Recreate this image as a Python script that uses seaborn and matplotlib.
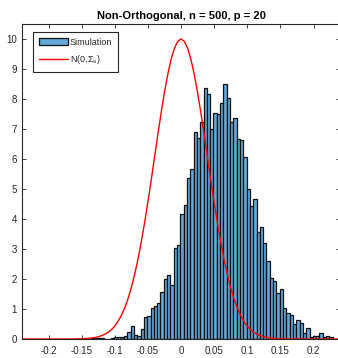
import numpy as np
import pandas as pd
import matplotlib
matplotlib.use("Agg")
import matplotlib.pyplot as plt
from matplotlib.patches import Patch
from matplotlib.lines import Line2D
import seaborn as sns

# ---------------- data ----------------
bin_start = -0.136          # left edge of first bin
bin_width = 0.005
sim_density = [0.03, 0.05, 0.04, 0.04, 0.00, 0.00, 0.03, 0.06, 0.06, 0.08,
               0.10, 0.24, 0.45, 0.14, 0.10, 0.33, 0.72, 0.78, 1.03, 1.11,
               1.21, 1.58, 2.01, 2.13, 1.79, 3.04, 3.13, 4.16, 4.48, 5.38,
               5.66, 6.91, 6.71, 7.22, 8.37, 8.17, 7.01, 7.52, 7.49, 7.88,
               8.49, 8.04, 7.22, 7.38, 6.67, 6.62, 6.08, 4.99, 4.44, 4.66,
               3.56, 3.72, 3.21, 2.60, 2.02, 1.94, 1.52, 1.67, 1.02, 0.87,
               0.81, 0.50, 0.63, 0.53, 0.19, 0.37, 0.06, 0.11, 0.11, 0.19,
               0.07, 0.11, 0.06]

curve_x = [-0.24, -0.20, -0.18, -0.16, -0.15, -0.14, -0.13, -0.125, -0.12, -0.115,
           -0.11, -0.105, -0.10, -0.095, -0.09, -0.085, -0.08, -0.075, -0.07, -0.065,
           -0.06, -0.055, -0.05, -0.045, -0.04, -0.035, -0.03, -0.025, -0.02, -0.015,
           -0.01, -0.005, 0.0, 0.005, 0.01, 0.015, 0.02, 0.025, 0.03, 0.035,
           0.04, 0.045, 0.05, 0.055, 0.06, 0.065, 0.07, 0.075, 0.08, 0.085,
           0.09, 0.095, 0.10, 0.105, 0.11, 0.115, 0.12, 0.125, 0.13, 0.14,
           0.15, 0.16, 0.18, 0.20, 0.24]
curve_y = [0.0, 0.0, 0.0005, 0.003, 0.0085, 0.021, 0.049, 0.074, 0.11, 0.16,
           0.22, 0.31, 0.43, 0.59, 0.79, 1.03, 1.34, 1.71, 2.15, 2.65,
           3.23, 3.87, 4.56, 5.29, 6.05, 6.81, 7.54, 8.22, 8.82, 9.32,
           9.69, 9.92, 10.0, 9.92, 9.69, 9.32, 8.82, 8.22, 7.54, 6.81,
           6.05, 5.29, 4.56, 3.87, 3.23, 2.65, 2.15, 1.71, 1.34, 1.03,
           0.79, 0.59, 0.43, 0.31, 0.22, 0.16, 0.11, 0.074, 0.049, 0.021,
           0.0085, 0.003, 0.0005, 0.0, 0.0]

x_ticks = [-0.2, -0.15, -0.1, -0.05, 0, 0.05, 0.1, 0.15, 0.2]
x_tick_labels = ["-0.2", "-0.15", "-0.1", "-0.05", "0", "0.05", "0.1", "0.15", "0.2"]
y_ticks = [0, 1, 2, 3, 4, 5, 6, 7, 8, 9, 10]
y_tick_labels = ["0", "1", "2", "3", "4", "5", "6", "7", "8", "9", "10"]

title = "Non-Orthogonal, n = 500, p = 20"
label_sim = "Simulation"
label_norm = r"N(0,$\Sigma_s$)"

# ---------------- styling ----------------
sns.set_style("ticks")
plt.rcParams["font.family"] = ["Liberation Sans", "DejaVu Sans"]
plt.rcParams["mathtext.fontset"] = "custom"
plt.rcParams["mathtext.rm"] = "Liberation Sans"
plt.rcParams["mathtext.it"] = "Liberation Sans"
plt.rcParams["axes.unicode_minus"] = False

bar_color = "#62A9D8"
text_color = "#262626"

n_bins = len(sim_density)
edges = [bin_start + bin_width * i for i in range(n_bins + 1)]
centers = [bin_start + bin_width * (i + 0.5) for i in range(n_bins)]
hist_df = pd.DataFrame({"x": centers, "w": sim_density})
curve_df = pd.DataFrame({"x": curve_x, "y": curve_y})

fig = plt.figure(figsize=(3.38, 3.58), dpi=100)
W, H = 338.0, 358.0
ax = fig.add_axes([22 / W, (H - 339) / H, 318 / W, 315 / H])

sns.histplot(data=hist_df, x="x", weights="w", bins=edges, stat="count",
             color=bar_color, alpha=1.0, edgecolor="#111111", linewidth=0.9,
             ax=ax)
sns.lineplot(data=curve_df, x="x", y="y", color="red", linewidth=1.0, ax=ax)

ax.set_xlim(-0.24, 0.24)
ax.set_ylim(0, 10.5)
ax.set_xticks(x_ticks)
ax.set_xticklabels(x_tick_labels)
ax.set_yticks(y_ticks)
ax.set_yticklabels(y_tick_labels)
ax.set_xlabel("")
ax.set_ylabel("")

for s in ax.spines.values():
    s.set_visible(True)
    s.set_color(text_color)
    s.set_linewidth(0.8)

ax.tick_params(axis="both", direction="in", length=3, width=0.6,
               colors=text_color, labelsize=7, top=True, right=True)
ax.tick_params(axis="x", pad=5)
ax.tick_params(axis="y", pad=3.5)

ax.set_title(title, fontsize=8, fontweight="bold", color="black", pad=3.5)

handles = [Patch(facecolor=bar_color, edgecolor="#111111", linewidth=0.9),
           Line2D([0], [0], color="red", linewidth=1.0)]
leg = ax.legend(handles, [label_sim, label_norm], loc="upper left",
                bbox_to_anchor=(11 / 318, 1 - 8 / 315), borderaxespad=0,
                fontsize=6.5, frameon=True, fancybox=False,
                handlelength=3.2, handleheight=0.8, handletextpad=0.25,
                labelspacing=0.7, borderpad=0.65)
leg.get_frame().set_edgecolor(text_color)
leg.get_frame().set_linewidth(0.8)
leg.get_frame().set_alpha(1.0)

fig.savefig("out.png", dpi=100)
